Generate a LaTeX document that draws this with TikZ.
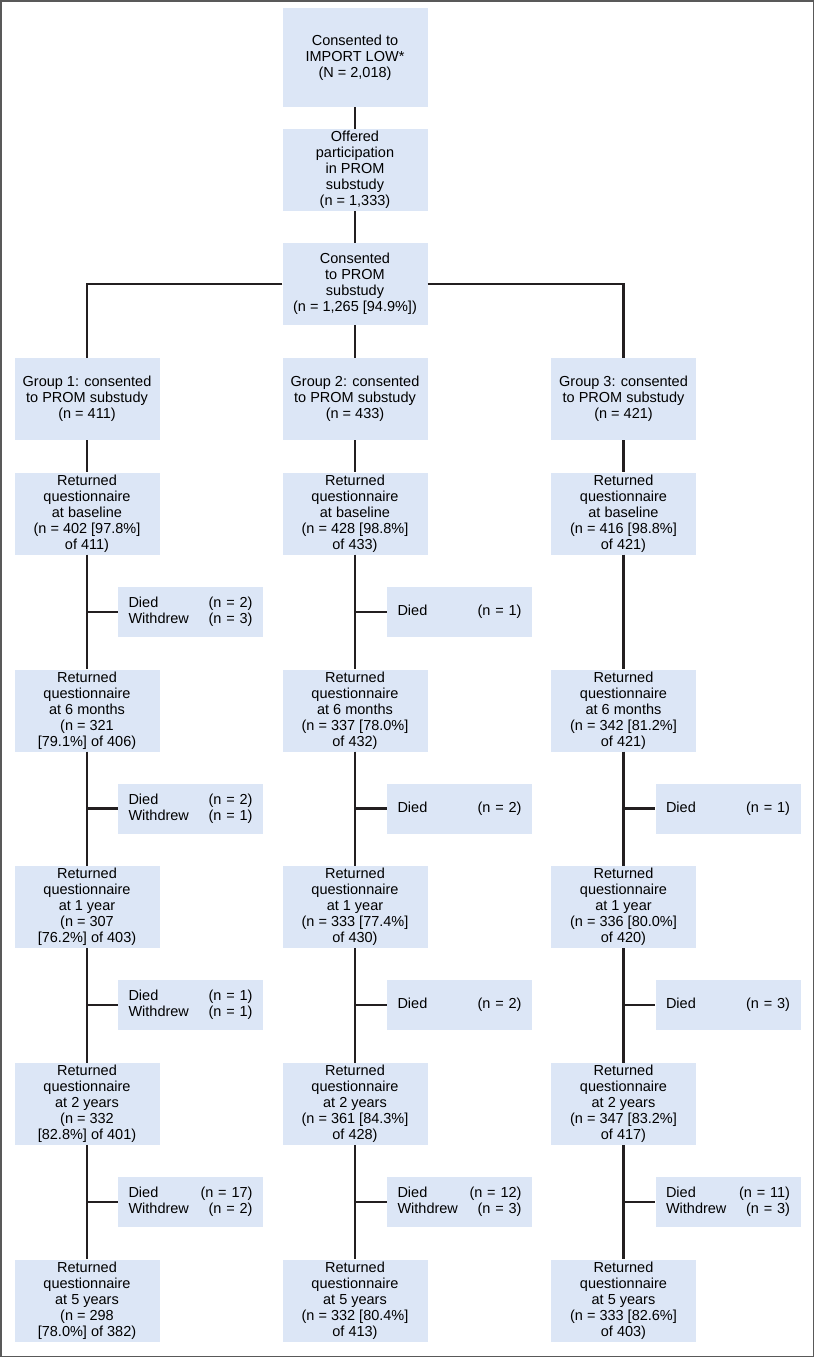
\documentclass[tikz,border=0pt]{standalone}
\usepackage{fontspec}
\setmainfont{Liberation Sans}
\definecolor{boxblue}{RGB}{220,230,246}
\definecolor{linegray}{RGB}{35,31,32}

\begin{document}
\begin{tikzpicture}[x = 1pt, y = -1pt]
\tikzstyle{StepStyle} = [shape = rectangle, fill = boxblue, minimum width = 145pt, minimum height = 82pt, inner sep = 0pt, align = center, font = \fontsize{14.5}{16}\selectfont]
\tikzstyle{TopStyle} = [StepStyle, minimum height = 99pt]
\tikzstyle{LossStyle} = [shape = rectangle, fill = boxblue, minimum width = 145pt, minimum height = 50pt, inner sep = 0pt, text width = 124pt, font = \fontsize{14.5}{16}\selectfont]
\tikzstyle{LinkStyle} = [draw = linegray, line width = 2.3pt]
\useasboundingbox (0,0) rectangle (816,1358);
\draw[gray!70!black, line width = 1.5pt] (0.75,0.75) rectangle (813.5,1356.5);
% enrolment
\node[TopStyle] (b0) at (355, 57.5) {Consented to\\IMPORT LOW*\\(N = 2,018)};
\node[StepStyle] (b1) at (355, 170) {Offered\\participation\\in PROM\\substudy\\(n = 1,333)};
\node[StepStyle] (b2) at (355, 284) {Consented\\to PROM\\substudy\\(n = 1,265 [94.9\%])};
% group 1
\node[StepStyle] (g1) at (87, 399) {Group 1: consented\\to PROM substudy\\(n = 411)};
\node[StepStyle] (r10) at (87, 513.5) {Returned\\questionnaire\\at baseline\\(n = 402 [97.8\%]\\of 411)};
\node[LossStyle] (d11) at (190.5, 612) {Died\hfill(n = 2)\\Withdrew\hfill(n = 3)};
\node[StepStyle] (r11) at (87, 710.5) {Returned\\questionnaire\\at 6 months\\(n = 321\\{[}79.1\%{]} of 406)};
\node[LossStyle] (d12) at (190.5, 808.5) {Died\hfill(n = 2)\\Withdrew\hfill(n = 1)};
\node[StepStyle] (r12) at (87, 907) {Returned\\questionnaire\\at 1 year\\(n = 307\\{[}76.2\%{]} of 403)};
\node[LossStyle] (d13) at (190.5, 1005) {Died\hfill(n = 1)\\Withdrew\hfill(n = 1)};
\node[StepStyle] (r13) at (87, 1104) {Returned\\questionnaire\\at 2 years\\(n = 332\\{[}82.8\%{]} of 401)};
\node[LossStyle] (d14) at (190.5, 1202) {Died\hfill(n = 17)\\Withdrew\hfill(n = 2)};
\node[StepStyle] (r14) at (87, 1300.5) {Returned\\questionnaire\\at 5 years\\(n = 298\\{[}78.0\%{]} of 382)};
% group 2
\node[StepStyle] (g2) at (355, 399) {Group 2: consented\\to PROM substudy\\(n = 433)};
\node[StepStyle] (r20) at (355, 513.5) {Returned\\questionnaire\\at baseline\\(n = 428 [98.8\%]\\of 433)};
\node[LossStyle] (d21) at (459.5, 612) {Died\hfill(n = 1)};
\node[StepStyle] (r21) at (355, 710.5) {Returned\\questionnaire\\at 6 months\\(n = 337 [78.0\%]\\of 432)};
\node[LossStyle] (d22) at (459.5, 808.5) {Died\hfill(n = 2)};
\node[StepStyle] (r22) at (355, 907) {Returned\\questionnaire\\at 1 year\\(n = 333 [77.4\%]\\of 430)};
\node[LossStyle] (d23) at (459.5, 1005) {Died\hfill(n = 2)};
\node[StepStyle] (r23) at (355, 1104) {Returned\\questionnaire\\at 2 years\\(n = 361 [84.3\%]\\of 428)};
\node[LossStyle] (d24) at (459.5, 1202) {Died\hfill(n = 12)\\Withdrew\hfill(n = 3)};
\node[StepStyle] (r24) at (355, 1300.5) {Returned\\questionnaire\\at 5 years\\(n = 332 [80.4\%]\\of 413)};
% group 3
\node[StepStyle] (g3) at (623.5, 399) {Group 3: consented\\to PROM substudy\\(n = 421)};
\node[StepStyle] (r30) at (623.5, 513.5) {Returned\\questionnaire\\at baseline\\(n = 416 [98.8\%]\\of 421)};
\node[StepStyle] (r31) at (623.5, 710.5) {Returned\\questionnaire\\at 6 months\\(n = 342 [81.2\%]\\of 421)};
\node[LossStyle] (d32) at (728, 808.5) {Died\hfill(n = 1)};
\node[StepStyle] (r32) at (623.5, 907) {Returned\\questionnaire\\at 1 year\\(n = 336 [80.0\%]\\of 420)};
\node[LossStyle] (d33) at (728, 1005) {Died\hfill(n = 3)};
\node[StepStyle] (r33) at (623.5, 1104) {Returned\\questionnaire\\at 2 years\\(n = 347 [83.2\%]\\of 417)};
\node[LossStyle] (d34) at (728, 1202) {Died\hfill(n = 11)\\Withdrew\hfill(n = 3)};
\node[StepStyle] (r34) at (623.5, 1300.5) {Returned\\questionnaire\\at 5 years\\(n = 333 [82.6\%]\\of 403)};
% connectors
\draw[LinkStyle] (b0) -- (b1);
\draw[LinkStyle] (b1) -- (b2);
\draw[LinkStyle] (b2) -- (g2);
\draw[LinkStyle] (b2.west) -| (g1.north);
\draw[LinkStyle] (b2.east) -| (g3.north);
\draw[LinkStyle] (g1) -- (r10);
\draw[LinkStyle] (r10) -- (r11);
\draw[LinkStyle] (r11) -- (r12);
\draw[LinkStyle] (r12) -- (r13);
\draw[LinkStyle] (r13) -- (r14);
\draw[LinkStyle] (g2) -- (r20);
\draw[LinkStyle] (r20) -- (r21);
\draw[LinkStyle] (r21) -- (r22);
\draw[LinkStyle] (r22) -- (r23);
\draw[LinkStyle] (r23) -- (r24);
\draw[LinkStyle] (g3) -- (r30);
\draw[LinkStyle] (r30) -- (r31);
\draw[LinkStyle] (r31) -- (r32);
\draw[LinkStyle] (r32) -- (r33);
\draw[LinkStyle] (r33) -- (r34);
\draw[LinkStyle] (r10 |- d11) -- (d11);
\draw[LinkStyle] (r11 |- d12) -- (d12);
\draw[LinkStyle] (r12 |- d13) -- (d13);
\draw[LinkStyle] (r13 |- d14) -- (d14);
\draw[LinkStyle] (r20 |- d21) -- (d21);
\draw[LinkStyle] (r21 |- d22) -- (d22);
\draw[LinkStyle] (r22 |- d23) -- (d23);
\draw[LinkStyle] (r23 |- d24) -- (d24);
\draw[LinkStyle] (r31 |- d32) -- (d32);
\draw[LinkStyle] (r32 |- d33) -- (d33);
\draw[LinkStyle] (r33 |- d34) -- (d34);
\end{tikzpicture}
\end{document}
